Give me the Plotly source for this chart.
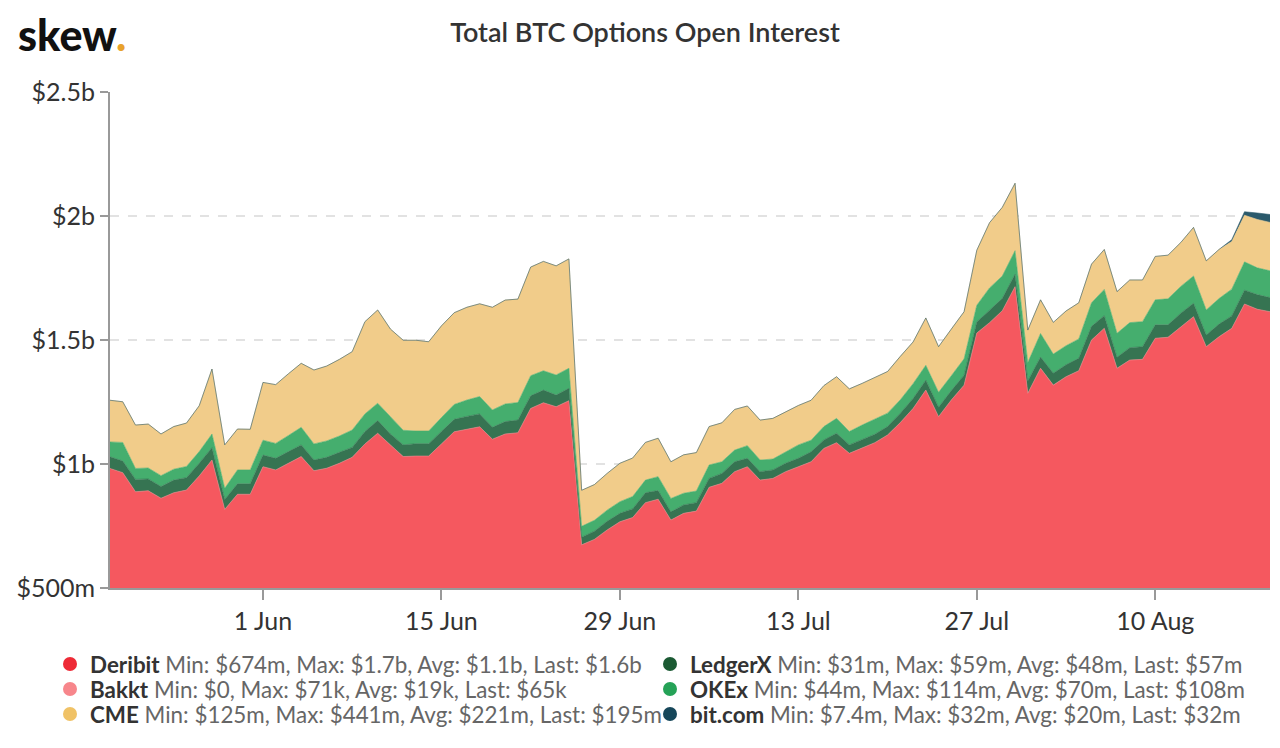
import pandas as pd
import plotly.graph_objects as go

# ---------------- data (values in $m) ----------------
start_date = "2020-05-20"
n_days = 92
dates = pd.date_range(start_date, periods=n_days, freq="D").strftime("%Y-%m-%d").tolist()

deribit = [982, 965, 888, 892, 862, 884, 895, 952, 1016, 817,
           878, 878, 989, 976, 1003, 1030, 973, 983, 1003, 1027,
           1081, 1124, 1077, 1030, 1032, 1032, 1081, 1130, 1140, 1150,
           1100, 1121, 1126, 1224, 1247, 1231, 1255, 674, 696, 734,
           767, 784, 844, 858, 774, 801, 810, 906, 922, 969,
           989, 935, 942, 969, 989, 1009, 1063, 1086, 1043, 1063,
           1086, 1117, 1167, 1224, 1298, 1191, 1258, 1318, 1528, 1570,
           1618, 1715, 1285, 1386, 1318, 1352, 1376, 1500, 1547, 1386,
           1419, 1422, 1507, 1511, 1554, 1594, 1473, 1513, 1547, 1645,
           1624, 1614]

ledgerx = [47, 47, 50, 48, 47, 51, 50, 51, 50, 40,
           42, 42, 47, 47, 47, 47, 43, 44, 44, 40,
           50, 51, 44, 47, 50, 50, 50, 50, 52, 52,
           48, 50, 51, 51, 51, 47, 50, 31, 33, 35,
           34, 35, 40, 35, 33, 34, 34, 36, 40, 40,
           34, 34, 34, 34, 34, 40, 34, 38, 34, 34,
           34, 34, 38, 40, 40, 38, 38, 40, 45, 50,
           50, 50, 50, 45, 48, 48, 50, 55, 51, 44,
           50, 51, 54, 50, 54, 54, 47, 51, 50, 56,
           59, 57]

okex = [60, 75, 44, 44, 44, 44, 45, 47, 55, 45,
        56, 56, 60, 60, 65, 71, 65, 66, 66, 70,
        71, 70, 70, 59, 51, 51, 56, 60, 66, 70,
        70, 71, 71, 81, 78, 81, 81, 44, 44, 45,
        47, 50, 51, 56, 54, 47, 47, 54, 47, 47,
        51, 47, 44, 47, 54, 47, 54, 60, 54, 60,
        60, 54, 54, 60, 60, 60, 60, 66, 67, 90,
        90, 95, 74, 95, 77, 77, 78, 95, 106, 97,
        101, 101, 101, 105, 108, 110, 101, 103, 108, 114,
        108, 108]

cme = [168, 164, 175, 177, 168, 172, 175, 185, 262, 175,
       165, 164, 233, 237, 249, 258, 298, 302, 309, 316,
       372, 376, 353, 363, 366, 360, 370, 370, 374, 374,
       414, 419, 417, 438, 441, 440, 441, 145, 144, 148,
       155, 155, 152, 155, 148, 155, 155, 155, 157, 164,
       160, 161, 164, 161, 159, 161, 165, 168, 172, 168,
       168, 168, 175, 168, 191, 184, 188, 190, 222, 263,
       277, 272, 131, 136, 128, 140, 146, 156, 161, 168,
       172, 168, 175, 176, 177, 196, 198, 198, 192, 188,
       195, 195]

# Bakkt and bit.com only report in the last weeks
bakkt_dates = pd.date_range("2020-07-22", periods=29, freq="D").strftime("%Y-%m-%d").tolist()
bakkt = [0.0, 0.0, 0.0, 0.01, 0.02, 0.02, 0.03, 0.03, 0.04, 0.04,
         0.05, 0.05, 0.05, 0.06, 0.06, 0.06, 0.07, 0.071, 0.07, 0.07,
         0.066, 0.066, 0.065, 0.065, 0.065, 0.065, 0.065, 0.065, 0.065]

bitcom_dates = pd.date_range("2020-08-16", periods=4, freq="D").strftime("%Y-%m-%d").tolist()
bitcom = [7.4, 14, 26, 32]

legend_text = {
    "Deribit": "Min: $674m, Max: $1.7b, Avg: $1.1b, Last: $1.6b",
    "Bakkt": "Min: $0, Max: $71k, Avg: $19k, Last: $65k",
    "CME": "Min: $125m, Max: $441m, Avg: $221m, Last: $195m",
    "LedgerX": "Min: $31m, Max: $59m, Avg: $48m, Last: $57m",
    "OKEx": "Min: $44m, Max: $114m, Avg: $70m, Last: $108m",
    "bit.com": "Min: $7.4m, Max: $32m, Avg: $20m, Last: $32m",
}
legend_columns = [["Deribit", "Bakkt", "CME"], ["LedgerX", "OKEx", "bit.com"]]

y_ticks = [500, 1000, 1500, 2000, 2500]
y_tick_text = ["$500m", "$1b", "$1.5b", "$2b", "$2.5b"]
x_ticks = ["2020-06-01", "2020-06-15", "2020-06-29", "2020-07-13", "2020-07-27", "2020-08-10"]
x_tick_text = ["1 Jun", "15 Jun", "29 Jun", "13 Jul", "27 Jul", "10 Aug"]

# ---------------- styling ----------------
fill_col = {
    "Deribit": "#f5585f",
    "Bakkt": "#f48a8e",
    "LedgerX": "#367452",
    "OKEx": "#45ae6e",
    "CME": "#f1cc8a",
    "bit.com": "#2b5a6c",
}
dot_col = {
    "Deribit": "#ee2a36",
    "Bakkt": "#f7868b",
    "CME": "#f0c266",
    "LedgerX": "#1b5a33",
    "OKEx": "#25a257",
    "bit.com": "#16475a",
}

W, H = 1280, 748
OFF = 8  # page body margin
fig = go.Figure()

stack = [
    ("Deribit", dates, deribit),
    ("Bakkt", bakkt_dates, bakkt),
    ("LedgerX", dates, ledgerx),
    ("OKEx", dates, okex),
    ("CME", dates, cme),
    ("bit.com", bitcom_dates, bitcom),
]
for name, xs, ys in stack:
    fig.add_trace(go.Scatter(
        x=xs, y=ys, name=name, stackgroup="one", mode="lines",
        line=dict(width=0.6, color=fill_col[name]),
        fillcolor=fill_col[name], showlegend=False,
        hovertemplate="%{y:.0f}m<extra>" + name + "</extra>",
    ))

def leg_label(name):
    return ("<b>" + name + "</b> <span style='color:#666666'>"
            + legend_text[name] + "</span>")

legend_layouts = {}
col_text_x = [90, 690]          # page px where legend text starts
row_center_y = [663, 688, 713]  # page px of item centres
k = 0
for ci, names in enumerate(legend_columns):
    for ri, name in enumerate(names):
        k += 1
        lg = "legend" if k == 1 else "legend%d" % k
        fig.add_trace(go.Scatter(
            x=[dates[0]], y=[None], mode="markers", name=leg_label(name),
            marker=dict(size=14, color=dot_col[name]),
            legend=lg, showlegend=True, hoverinfo="skip",
        ))
        left = col_text_x[ci] - OFF - 40
        top = row_center_y[ri] - OFF - 20
        legend_layouts[lg] = dict(
            x=left / W, y=1 - top / H, orientation="v",
            xref="container", yref="container",
            xanchor="left", yanchor="top", bgcolor="rgba(0,0,0,0)",
            font=dict(family="Lato, sans-serif", size=22.4, color="#333333"),
            itemclick=False, itemdoubleclick=False,
        )

fig.update_layout(
    width=W, height=H,
    margin=dict(l=110 - OFF, r=18, t=92 - OFF, b=H - (588 - OFF), autoexpand=False),
    paper_bgcolor="white", plot_bgcolor="white",
    font=dict(family="Lato, sans-serif", color="#333333"),
    title=dict(text="Total BTC Options Open Interest", x=(645 - OFF) / W, xref="container",
               xanchor="center", y=1 - (33 - OFF) / H, yref="container", yanchor="middle",
               font=dict(family="Lato, sans-serif", size=27, color="#333333", weight=600)),
    showlegend=True,
    annotations=[dict(
        text="skew<span style='color:#e8a22c'>.</span>",
        xref="paper", yref="paper", x=-94 / 1160, y=1 + (84 - 27) / 496,
        xanchor="left", yanchor="middle", showarrow=False,
        font=dict(family="Lato, sans-serif", size=43, color="#111111", weight=900),
    )],
    **legend_layouts,
)

fig.update_xaxes(
    type="date", range=[dates[0], dates[-1]],
    tickvals=x_ticks, ticktext=x_tick_text,
    ticks="outside", ticklen=10, tickwidth=2, tickcolor="#999999",
    showline=True, linecolor="#999999", linewidth=2,
    showgrid=False, zeroline=False,
    tickfont=dict(family="Lato, sans-serif", size=25, color="#333333"),
)
fig.update_yaxes(
    range=[500, 2500], tickvals=y_ticks, ticktext=y_tick_text,
    ticks="outside", ticklen=8, tickwidth=2, tickcolor="#999999",
    showline=True, linecolor="#999999", linewidth=2,
    showgrid=True, gridcolor="#e2e2e2", gridwidth=1.5, griddash="dash",
    zeroline=False,
    tickfont=dict(family="Lato, sans-serif", size=25, color="#333333"),
)

fig.write_html("out.html")
